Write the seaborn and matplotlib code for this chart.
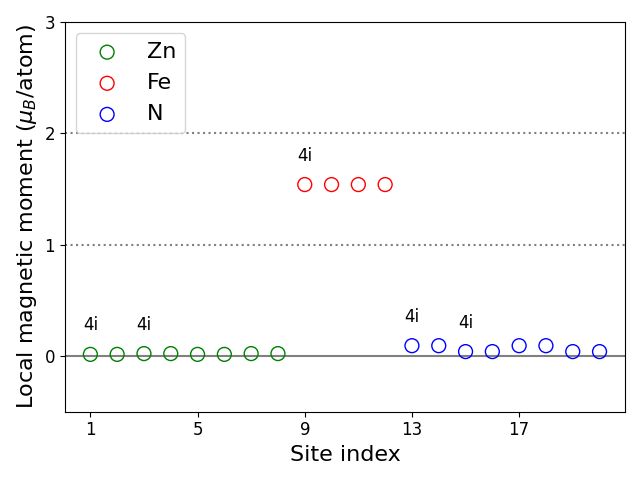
import matplotlib
matplotlib.use("Agg")
import matplotlib.pyplot as plt
import seaborn as sns
import pandas as pd

zn_sites = [1, 2, 3, 4, 5, 6, 7, 8]
zn_moments = [0.015, 0.015, 0.022, 0.022, 0.015, 0.015, 0.022, 0.022]
fe_sites = [9, 10, 11, 12]
fe_moments = [1.54, 1.54, 1.54, 1.54]
n_sites = [13, 14, 15, 16, 17, 18, 19, 20]
n_moments = [0.093, 0.093, 0.04, 0.04, 0.093, 0.093, 0.04, 0.04]
label_sites = [1, 3, 9, 13, 15]
label_text = "4i"
xticks = [1, 5, 9, 13, 17]
yticks = [0, 1, 2, 3]

fig, ax = plt.subplots(figsize=(6.4, 4.8), dpi=100)

groups = [("Zn", zn_sites, zn_moments, "green"),
          ("Fe", fe_sites, fe_moments, "red"),
          ("N", n_sites, n_moments, "blue")]
lookup = {}
for name, xs, ys, col in groups:
    df = pd.DataFrame({"site": xs, "moment": ys})
    sns.scatterplot(data=df, x="site", y="moment", ax=ax, s=100,
                    facecolors="none", edgecolor=col, linewidth=1.0,
                    label=name, zorder=3)
    for x, y in zip(xs, ys):
        lookup[x] = y

for x in label_sites:
    ax.text(x, lookup[x] + 0.26, label_text, ha="center", va="center", fontsize=12)

ax.axhline(0, color="gray", lw=1.5, zorder=1)
ax.axhline(1, color="gray", lw=1.5, ls=":", zorder=1)
ax.axhline(2, color="gray", lw=1.5, ls=":", zorder=1)

ax.set_ylim(-0.5, 3)
ax.set_xticks(xticks)
ax.set_yticks(yticks)
ax.tick_params(labelsize=12)
ax.set_xlabel("Site index", fontsize=16)
ax.set_ylabel(r"Local magnetic moment ($\mu_B$/atom)", fontsize=16)
ax.legend(loc="upper left", fontsize=16)

fig.tight_layout()
fig.savefig("out.png", dpi=100)
